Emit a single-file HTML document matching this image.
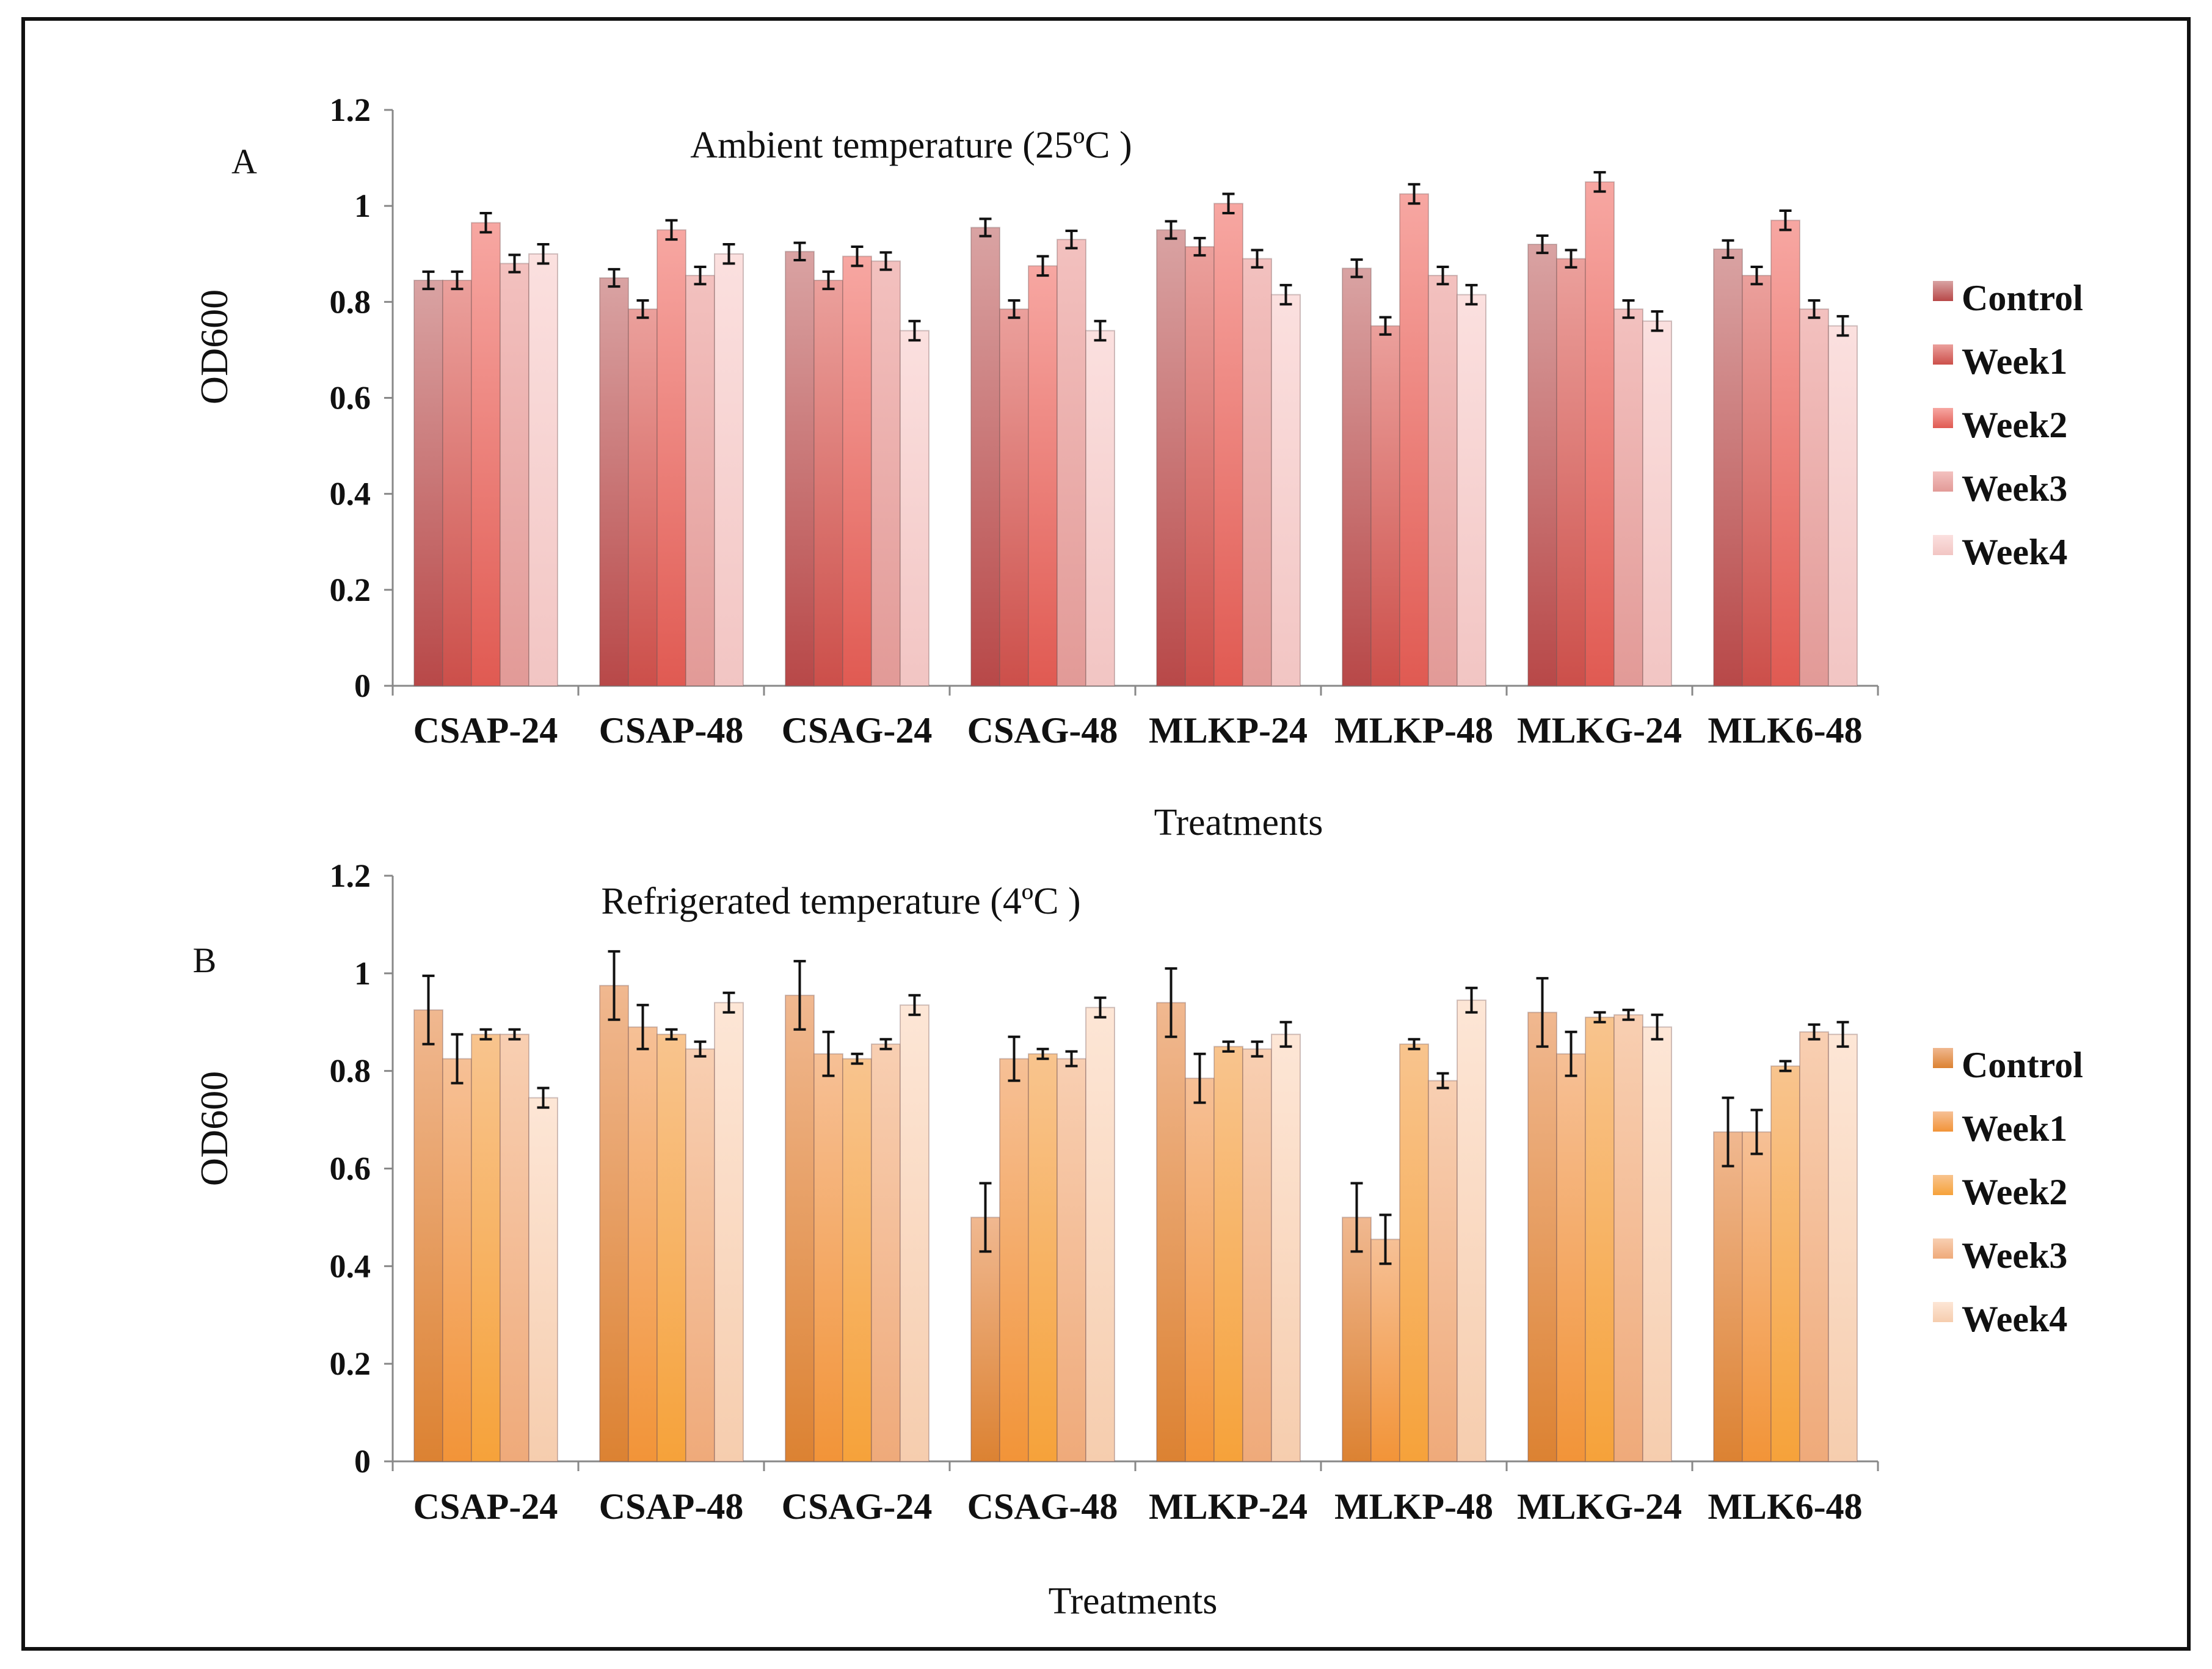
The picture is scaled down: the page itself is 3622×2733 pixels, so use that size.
<!DOCTYPE html>
<html><head><meta charset="utf-8"><style>
html,body{margin:0;padding:0;background:#fff}
svg{display:block}
text{font-family:"Liberation Serif",serif;fill:#111}
</style></head><body>
<svg id="fig" width="3622" height="2733" viewBox="0 0 3622 2733">
<defs>
<linearGradient id="a0" x1="0" y1="0" x2="0" y2="1"><stop offset="0" stop-color="#d9a3a3"/><stop offset="1" stop-color="#b84848"/></linearGradient>
<linearGradient id="a1" x1="0" y1="0" x2="0" y2="1"><stop offset="0" stop-color="#eba09c"/><stop offset="1" stop-color="#cc4f4a"/></linearGradient>
<linearGradient id="a2" x1="0" y1="0" x2="0" y2="1"><stop offset="0" stop-color="#f7a7a2"/><stop offset="1" stop-color="#e05a52"/></linearGradient>
<linearGradient id="a3" x1="0" y1="0" x2="0" y2="1"><stop offset="0" stop-color="#f3c1bf"/><stop offset="1" stop-color="#e29a97"/></linearGradient>
<linearGradient id="a4" x1="0" y1="0" x2="0" y2="1"><stop offset="0" stop-color="#fbe0df"/><stop offset="1" stop-color="#f2c5c3"/></linearGradient>
<linearGradient id="b0" x1="0" y1="0" x2="0" y2="1"><stop offset="0" stop-color="#f0b890"/><stop offset="1" stop-color="#dc8232"/></linearGradient>
<linearGradient id="b1" x1="0" y1="0" x2="0" y2="1"><stop offset="0" stop-color="#f6c096"/><stop offset="1" stop-color="#f29438"/></linearGradient>
<linearGradient id="b2" x1="0" y1="0" x2="0" y2="1"><stop offset="0" stop-color="#f8c48e"/><stop offset="1" stop-color="#f6a23a"/></linearGradient>
<linearGradient id="b3" x1="0" y1="0" x2="0" y2="1"><stop offset="0" stop-color="#f8cfb2"/><stop offset="1" stop-color="#efaa7a"/></linearGradient>
<linearGradient id="b4" x1="0" y1="0" x2="0" y2="1"><stop offset="0" stop-color="#fde6d6"/><stop offset="1" stop-color="#f6cdae"/></linearGradient>
</defs>
<rect x="38" y="31" width="3546" height="2669" fill="none" stroke="#111" stroke-width="6"/>
</svg>
<script>
const categories=["CSAP-24","CSAP-48","CSAG-24","CSAG-48","MLKP-24","MLKP-48","MLKG-24","MLK6-48"];
const seriesNames=["Control","Week1","Week2","Week3","Week4"];
const ticks=[0,0.2,0.4,0.6,0.8,1,1.2];
const tickLabels=["0","0.2","0.4","0.6","0.8","1","1.2"];
const ambControl=[0.845,0.85,0.905,0.955,0.95,0.87,0.92,0.91];
const ambWeek1=[0.845,0.785,0.845,0.785,0.915,0.75,0.89,0.855];
const ambWeek2=[0.965,0.95,0.895,0.875,1.005,1.025,1.05,0.97];
const ambWeek3=[0.88,0.855,0.885,0.93,0.89,0.855,0.785,0.785];
const ambWeek4=[0.9,0.9,0.74,0.74,0.815,0.815,0.76,0.75];
const ambErr=[0.018,0.018,0.02,0.018,0.02];
const refControl=[0.925,0.975,0.955,0.5,0.94,0.5,0.92,0.675];
const refWeek1=[0.825,0.89,0.835,0.825,0.785,0.455,0.835,0.675];
const refWeek2=[0.875,0.875,0.825,0.835,0.85,0.855,0.91,0.81];
const refWeek3=[0.875,0.845,0.855,0.825,0.845,0.78,0.915,0.88];
const refWeek4=[0.745,0.94,0.935,0.93,0.875,0.945,0.89,0.875];
const refErrControl=[0.07,0.07,0.07,0.07,0.07,0.07,0.07,0.07];
const refErrWeek1=[0.05,0.045,0.045,0.045,0.05,0.05,0.045,0.045];
const refErrWeek2=[0.01,0.01,0.01,0.01,0.01,0.01,0.01,0.01];
const refErrWeek3=[0.01,0.015,0.01,0.015,0.015,0.015,0.01,0.015];
const refErrWeek4=[0.02,0.02,0.02,0.02,0.025,0.025,0.025,0.025];

const NS="http://www.w3.org/2000/svg";
const svg=document.getElementById('fig');
function mk(tag,attrs,parent){const e=document.createElementNS(NS,tag);for(const k in attrs)e.setAttribute(k,attrs[k]);(parent||svg).appendChild(e);return e;}

function panel(o){
  const g=mk('g',{});
  
  
  const x0=643,step=304,y0=o.y0,hMax=o.h;
  const yS=v=>y0-v/1.2*hMax;
  const xS=i=>x0+i*step;
  const ya=mk('line',{x1:x0,y1:yS(1.2),x2:x0,y2:y0,stroke:'#888','stroke-width':3},g);
  
  
  const xa=mk('line',{x1:x0-14,y1:y0,x2:xS(categories.length),y2:y0,stroke:'#888','stroke-width':3},g);
  
  
  ticks.forEach((t,i)=>{
    mk('line',{x1:x0-14,y1:yS(t),x2:x0,y2:yS(t),stroke:'#888','stroke-width':3},g);
    const tx=mk('text',{x:x0-36,y:yS(t)+18,'text-anchor':'end','font-size':54,'font-weight':'bold'},g);
    tx.textContent=tickLabels[i];
    
    
  });
  for(let i=0;i<=categories.length;i++){mk('line',{x1:xS(i),y1:y0,x2:xS(i),y2:y0+16,stroke:'#888','stroke-width':3},g);}
  const bw=47,off=35;
  categories.forEach((c,i)=>{
    o.series.forEach((s,j)=>{
      const v=s[i],x=xS(i)+off+j*bw;
      const r=mk('rect',{x:x,y:yS(v),width:bw,height:y0-yS(v),fill:`url(#${o.grad}${j})`,stroke:'rgba(120,90,90,0.35)','stroke-width':2},g);
      
      
      const e=o.err(j,i),cx=x+bw/2;
      const eb=mk('path',{d:`M${cx-10},${yS(v+e)}H${cx+10}M${cx},${yS(v+e)}V${yS(v-e)}M${cx-10},${yS(v-e)}H${cx+10}`,stroke:'#111','stroke-width':4,fill:'none'},g);
      
      
    });
    const cl=mk('text',{x:xS(i)+step/2,y:o.catY,'text-anchor':'middle','font-size':60,'font-weight':'bold'},g);
    cl.textContent=c;
    
    
  });
  const xt=mk('text',{x:o.xtX,y:o.xtY,'text-anchor':'middle','font-size':62},g);
  xt.textContent='Treatments';
  
  
  const yt=mk('text',{x:0,y:0,'text-anchor':'middle','font-size':64,transform:`translate(372,${o.ytY}) rotate(-90)`},g);
  yt.textContent='OD600';
  
  
  const pl=mk('text',{x:o.plX,y:o.plY,'text-anchor':'middle','font-size':58},g);
  pl.textContent=o.letter;
  
  
  const ti=mk('text',{x:o.tX,y:o.tY,'text-anchor':'middle','font-size':62},g);
  ti.textContent=o.title;
  
  
  seriesNames.forEach((n,j)=>{
    const ly=o.legY+j*104;
    const lm=mk('rect',{x:3165,y:ly-48,width:33,height:33,fill:`url(#${o.grad}${j})`},g);
    
    
    const lt=mk('text',{x:3212,y:ly,'font-size':60,'font-weight':'bold'},g);
    lt.textContent=n;
    
    
  });
}
panel({name:'chart-a-ambient',y0:1123,h:943,grad:'a',series:[ambControl,ambWeek1,ambWeek2,ambWeek3,ambWeek4],
  err:(j,i)=>ambErr[j],catY:1216,xtX:2028,xtY:1367,ytY:568,plX:400,plY:284,letter:'A',
  tX:1492,tY:258,title:'Ambient temperature (25ºC )',legY:508});
panel({name:'chart-b-refrigerated',y0:2393,h:959,grad:'b',series:[refControl,refWeek1,refWeek2,refWeek3,refWeek4],
  err:(j,i)=>[refErrControl,refErrWeek1,refErrWeek2,refErrWeek3,refErrWeek4][j][i],catY:2487,xtX:1855,xtY:2642,ytY:1848,plX:335,plY:1592,letter:'B',
  tX:1377,tY:1496,title:'Refrigerated temperature (4ºC )',legY:1764});
</script>
</body></html>
